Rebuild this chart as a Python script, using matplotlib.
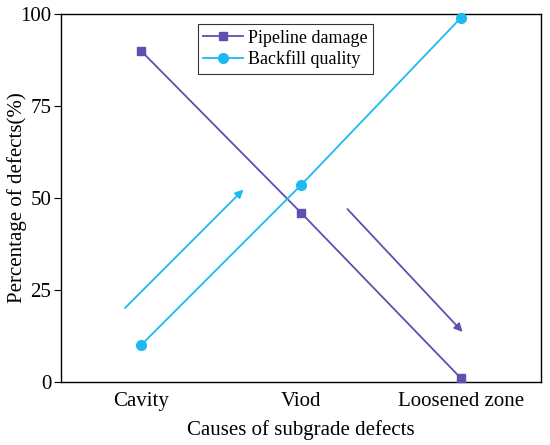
import numpy as np
import matplotlib
matplotlib.use("Agg")
import matplotlib.pyplot as plt

plt.rcParams["font.family"] = ["Liberation Serif", "DejaVu Serif"]
plt.rcParams["mathtext.fontset"] = "stix"

causas = ["Cavity", "Viod", "Loosened zone"]
danio_tuberia = [90, 46, 1]
calidad_relleno = [10, 53.5, 99]

# flechas de tendencia (inicio, fin) en coordenadas de datos
flecha_relleno = ((-0.1, 20.1), (0.64, 52.3))
flecha_tuberia = ((1.29, 47.0), (2.01, 13.6))

MORADO = "#5E4FB0"
CIAN = "#1DB9F2"

fig = plt.figure(figsize=(5.5, 4.45), dpi=100)
ax = fig.add_axes([61 / 550, 1 - 382 / 445, 480 / 550, 368 / 445])

x = np.arange(len(causas))
ax.plot(x, danio_tuberia, color=MORADO, lw=1.3, marker="s", ms=6,
        label="Pipeline damage", clip_on=False, zorder=3)
ax.plot(x, calidad_relleno, color=CIAN, lw=1.3, marker="o", ms=7,
        label="Backfill quality", clip_on=False, zorder=3)

for (ini, fin), col in [(flecha_relleno, CIAN), (flecha_tuberia, MORADO)]:
    ax.annotate("", xy=fin, xytext=ini,
                arrowprops=dict(arrowstyle="-|>", color=col, lw=1.3,
                                mutation_scale=12, shrinkA=0, shrinkB=0))

ax.set_xlim(-0.5, 2.5)
ax.set_ylim(0, 100)
ax.set_xticks(x)
ax.set_xticklabels(causas)
ax.set_yticks([0, 25, 50, 75, 100])
ax.tick_params(axis="x", length=0, labelsize=15, pad=7)
ax.tick_params(axis="y", direction="out", length=5, labelsize=15, pad=2)
for s in ax.spines.values():
    s.set_linewidth(1.0)

ax.set_xlabel("Causes of subgrade defects", fontsize=15, labelpad=7)
ax.set_ylabel("Percentage of defects(%)", fontsize=15, labelpad=-5)

leg = ax.legend(loc="upper center", bbox_to_anchor=(0.468, 0.972),
                fontsize=13, frameon=True, fancybox=False,
                edgecolor="black", handlelength=2.2, borderpad=0.3,
                labelspacing=0.2, handletextpad=0.3, borderaxespad=0)
leg.get_frame().set_linewidth(0.8)

fig.savefig("out.png", dpi=100)
